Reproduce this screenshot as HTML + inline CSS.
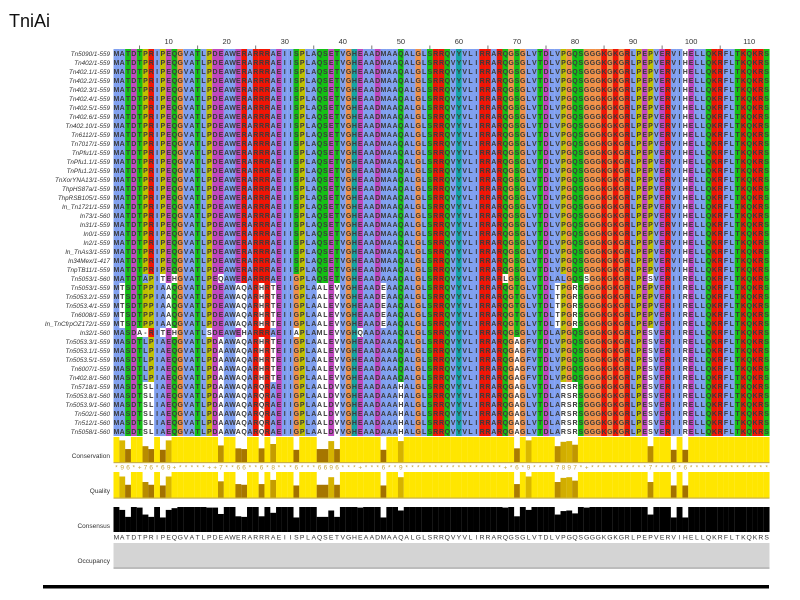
<!DOCTYPE html>
<html><head><meta charset="utf-8">
<style>
html,body{margin:0;padding:0;background:#fff;width:800px;height:600px;overflow:hidden}
#t{position:absolute;left:9px;top:11px;font:18px "Liberation Sans",sans-serif;color:#111}
svg{position:absolute;left:0;top:0}
</style></head><body>
<div id="t">TniAi</div>
<svg id="s" width="800" height="600" xmlns="http://www.w3.org/2000/svg"></svg>
<script>
var main="MATDTPRIPEQGVATLPDEAWERARRRAEIISPLAQSETVGHEAADMAAQALGLSRRQVYVLIRRARQGSGLVTDLVPGQSGGGKGKGRLPEPVERVIHELLQKRFLTKQKRS";
var v0="MATDTAPITEHGVATLPEQAWERARRRAEIIGPLAQSETVGHEAADAAAQALGLSRRQVYVLIRRARLGSGLVTDLALGQSSGGKGKGRLPESVERIIRELLQKRFLTKQKRS";
var v1="MTSDTPPIAAQGVATLPDEAWAQARHRTEIIGPLAALEVVGHEAADEAAQALGLSRRQVYVLIRRARQGTGLVTDLTPGRSGGGKGKGRLPEPVERIIRELLQKRFLTKQKRS";
var v32="MASDA-RITEHGVATLSDEAWEHARRRAEIIAPLAMLEVVGHQAADAAAQALGLSRRQVYVLIRRARQGSGLVTDLAPGQSGGGKGKGRLPESVERIIRELLQKRFLTKQKRS";
var v2="MASDTLPIAEQGVATLPDAAWAQARHRTEIIGPLAALEVVGHEAADAAAQALGLSRRQVYVLIRRARQGAGFVTDLVPGQSGGGKGKGRLPESVERIIRELLQKRFLTKQKRS";
var v3="MASDTSLIAEQGVATLPDAAWAQARQRAEIIGPLAALDVVGHEAADAAAHALGLSRRQVYVLIRRARQGAGLVTDLARSRSGGGKGKGRLPESVERIIRELLQKRFLTKQKRS";
var names=["Tn5090/1-559","Tn402/1-559","Tn402.1/1-559","Tn402.2/1-559","Tn402.3/1-559","Tn402.4/1-559","Tn402.5/1-559","Tn402.6/1-559","Tn402.10/1-559","Tn6112/1-559","Tn7017/1-559","TnPfu1/1-559","TnPfu1.1/1-559","TnPfu1.2/1-559","TnXorYNA13/1-559","ThpHS87a/1-559","ThpRSB105/1-559","In_Tn1721/1-559","In73/1-560","In31/1-559","In0/1-559","In2/1-559","In_TnAs3/1-559","In34Mex/1-417","TnpTB11/1-559","Tn5053/1-560","Tn5053/1-559","Tn5053.2/1-559","Tn5053.4/1-559","Tn6008/1-559","In_TnCfrpOZ172/1-559","In32/1-560","Tn5053.3/1-559","Tn5053.1/1-559","Tn5053.5/1-559","Tn6007/1-559","Tn402.8/1-560","Tn5718/1-559","Tn5053.8/1-560","Tn5053.9/1-560","Tn502/1-560","Tn512/1-560","Tn5058/1-560"];
var seqs=[];
for(var i=0;i<25;i++)seqs.push(main);
seqs.push(v0);for(i=0;i<5;i++)seqs.push(v1);seqs.push(v32);
for(i=0;i<5;i++)seqs.push(v2);for(i=0;i<6;i++)seqs.push(v3);
var N=113,X0=113.5,W=656/N,Y0=49,H=9;
var cls=function(c){if("AILMFWVC".indexOf(c)>=0)return"h";if("KR".indexOf(c)>=0)return"k";if("ED".indexOf(c)>=0)return"e";if("NQST".indexOf(c)>=0)return"n";if("HY".indexOf(c)>=0)return"y";if(c=="G")return"g";if(c=="P")return"p";return"x";};
var col={h:"#80a0f0",k:"#f01505",e:"#c048c0",n:"#15c015",y:"#15a4a4",g:"#f09048",p:"#c0c000"};
var o=[];
function r(x,y,w,h,f){o.push('<rect x="'+x.toFixed(2)+'" y="'+y.toFixed(2)+'" width="'+w.toFixed(2)+'" height="'+h.toFixed(2)+'" fill="'+f+'"/>');}
function t(x,y,s,st){o.push('<text x="'+x.toFixed(2)+'" y="'+y.toFixed(2)+'" '+st+'>'+s+'</text>');}
var R=seqs.length, cons="",fr=[];
for(var j=0;j<N;j++){
  var cnt={},cc={},hyd=0;
  for(i=0;i<R;i++){var c=seqs[i][j];cnt[c]=(cnt[c]||0)+1;var k=cls(c);cc[k]=(cc[k]||0)+1;if("WLVIMAFCHPY".indexOf(c)>=0)hyd++;}
  var best=null;for(var c2 in cnt)if(!best||cnt[c2]>cnt[best])best=c2;
  cons+=best;fr.push(cnt[best]/R);
  for(i=0;i<R;i++){
    var c=seqs[i][j],k=cls(c),f="#fff";
    if(k=="g"||k=="p")f=col[k];
    else if(k=="h"||k=="y"){if(hyd/R>0.6)f=col[k];}
    else if(col[k]&&cc[k]/R>=0.5)f=col[k];
    if(f!="#fff")r(X0+j*W,Y0+i*H,W+0.05,H,f);
  }
}
for(j=0;j<N;j++)for(i=0;i<R;i++){
  var c=seqs[i][j];
  t(X0+j*W+W/2,Y0+i*H+7.2,c,'font-size="7" font-weight="bold" fill="#3a3a3a" text-anchor="middle" font-family="Liberation Sans,sans-serif"');
}
for(i=0;i<R;i++)t(110,Y0+i*H+7,names[i],'font-size="6.3" font-style="italic" fill="#333" text-anchor="end" font-family="Liberation Sans,sans-serif"');
for(j=1;j<=N;j++){
  var cx=X0+(j-0.5)*W;
  if(j%10==0)t(cx,44,j,'font-size="7.5" fill="#333" text-anchor="middle" font-family="Liberation Sans,sans-serif"');
  else if(j%5==0)r(cx-0.4,45.5,0.8,3.5,"#555");
}
function mix(a,b,f){var pa=[parseInt(a.substr(1,2),16),parseInt(a.substr(3,2),16),parseInt(a.substr(5,2),16)],pb=[parseInt(b.substr(1,2),16),parseInt(b.substr(3,2),16),parseInt(b.substr(5,2),16)];return "rgb("+pa.map(function(v,i){return Math.round(v+(pb[i]-v)*f)}).join(",")+")";}
for(j=0;j<N;j++){
  var x=X0+j*W,f=fr[j];
  var full=f>=0.95;
  var q=Math.max(0,Math.min(1,(f-0.45)/0.5));
  var s=full?1:0.35+0.6*q;
  var cl=full?"#ffe600":mix("#8a5200","#e6c800",q);
  var h1=26*s;r(x,463-h1,W+0.05,h1,cl);
  var ch=f>=1?"*":(f>=0.9?"+":Math.min(9,Math.max(3,Math.round(f*10))));
  t(x+W/2,469.5,ch,'font-size="6.5" fill="#c8a83a" text-anchor="middle" font-family="Liberation Sans,sans-serif"');
  var h2=26*(full?1:Math.max(0.3,s*0.95));r(x,498-h2,W+0.05,h2,cl);
  var h3=25*f;r(x,532-h3,W+0.05,h3,"#000");
  t(x+W/2,539.5,cons[j],'font-size="6.8" fill="#333" text-anchor="middle" font-family="Liberation Sans,sans-serif"');
}
r(X0,543,656,24,"#d4d4d4");r(X0,567,656,2,"#bcbcbc");
r(X0,462,656,1.2,"#c8b04a");r(X0,497.5,656,1.2,"#c8b04a");
t(110,458,"Conservation",'font-size="6.5" fill="#333" text-anchor="end" font-family="Liberation Sans,sans-serif"');
t(110,493,"Quality",'font-size="6.5" fill="#333" text-anchor="end" font-family="Liberation Sans,sans-serif"');
t(110,528,"Consensus",'font-size="6.5" fill="#333" text-anchor="end" font-family="Liberation Sans,sans-serif"');
t(110,563,"Occupancy",'font-size="6.5" fill="#333" text-anchor="end" font-family="Liberation Sans,sans-serif"');
r(43,585,726,3.5,"#000");
document.getElementById("s").innerHTML=o.join("");
</script>
</body></html>
